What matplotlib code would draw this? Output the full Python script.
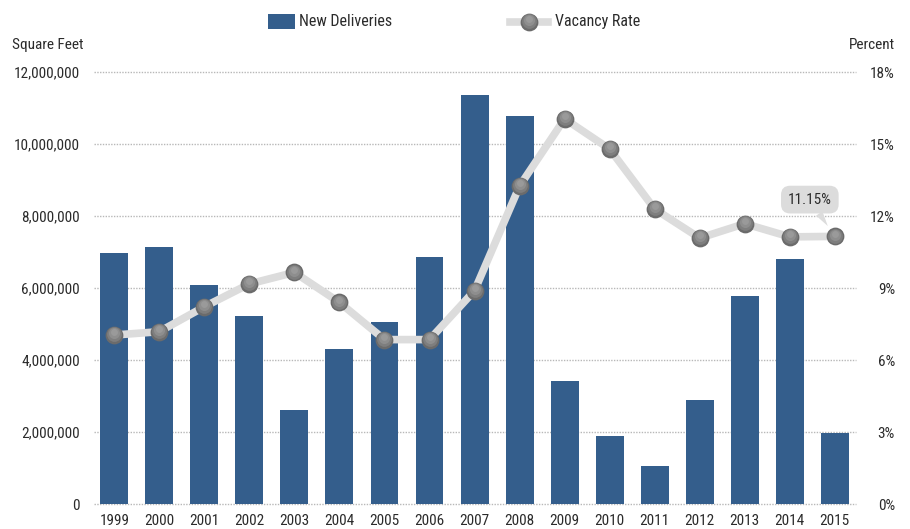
import matplotlib
matplotlib.use("Agg")
import matplotlib.pyplot as plt
from matplotlib.patches import Rectangle
from matplotlib.lines import Line2D
from matplotlib.transforms import offset_copy
import numpy as np

years = ["1999", "2000", "2001", "2002", "2003", "2004", "2005", "2006", "2007",
         "2008", "2009", "2010", "2011", "2012", "2013", "2014", "2015"]
deliveries = [6970000, 7140000, 6080000, 5220000, 2610000, 4310000, 5060000, 6860000,
              11360000, 10790000, 3420000, 1890000, 1060000, 2900000, 5770000, 6800000, 1970000]
vacancy = [7.04, 7.18, 8.22, 9.17, 9.65, 8.40, 6.85, 6.85, 8.89, 13.25, 16.05, 14.79,
           12.29, 11.08, 11.68, 11.13, 11.15]
left_ticks = [0, 2000000, 4000000, 6000000, 8000000, 10000000, 12000000]
left_labels = ["0", "2,000,000", "4,000,000", "6,000,000", "8,000,000", "10,000,000", "12,000,000"]
right_ticks = [0, 3, 6, 9, 12, 15, 18]
right_labels = ["0%", "3%", "6%", "9%", "12%", "15%", "18%"]

FONT = ["Roboto Condensed", "Liberation Sans Narrow", "DejaVu Sans"]
plt.rcParams["font.family"] = FONT
TXT = "#2b2b2b"
BAR = "#345e8c"
LINE = "#dcdcdc"
FS = 11

# gradient marker layers: (size, colour, upward offset px, alpha)
MARKER_LAYERS = [(12.8, "#6b6b6b", 0.0, 1.0), (10.6, "#7e7e7e", 0.9, 1.0),
                 (8.0, "#8e8e8e", 1.8, 1.0), (5.0, "#9a9a9a", 2.8, 1.0)]

W, H = 910, 529
fig = plt.figure(figsize=(W / 100, H / 100), dpi=100)
ax = fig.add_axes([94 / W, (H - 504) / H, 762 / W, (504 - 72) / H])
x = np.arange(len(years))

ax.bar(x, deliveries, width=0.62, color=BAR, zorder=2)
ax.set_xlim(-0.45, 16.47)
ax.set_ylim(0, 12000000)
ax.set_yticks(left_ticks)
ax.set_yticklabels(left_labels, fontsize=FS, color=TXT)
ax.set_xticks(x)
ax.set_xticklabels(years, fontsize=FS, color=TXT)
ax.tick_params(axis="y", length=0, pad=10)
ax.tick_params(axis="x", length=0, pad=7)
for s in ax.spines.values():
    s.set_visible(False)
for t in left_ticks:
    ax.axhline(t, color="#b8b8b8", lw=1.0, ls=(0, (1, 1)), zorder=1, clip_on=False)

ax2 = ax.twinx()
ax2.set_ylim(0, 18)
ax2.set_yticks(right_ticks)
ax2.set_yticklabels(right_labels, fontsize=FS, color=TXT)
ax2.tick_params(axis="y", length=0, pad=28)
for lbl in ax2.get_yticklabels():
    lbl.set_horizontalalignment("right")
for s in ax2.spines.values():
    s.set_visible(False)
ax2.plot(x, vacancy, color=LINE, lw=5.5, solid_capstyle="round", zorder=3)
for i, (ms, col, dy, a) in enumerate(MARKER_LAYERS):
    tr = offset_copy(ax2.transData, fig=fig, x=0, y=dy, units="dots")
    ax2.plot(x, vacancy, ls="none", marker="o", ms=ms, mfc=col, mec="none", alpha=a,
             transform=tr, zorder=4 + i * 0.1)

ax2.annotate("11.15%", xy=(x[-1], vacancy[-1]), xytext=(-18, 26.5), textcoords="offset points",
             ha="center", va="center", fontsize=FS, color=TXT,
             bbox=dict(boxstyle="round,pad=0.45,rounding_size=0.6", fc="#dcdcdc", ec="none"),
             arrowprops=dict(arrowstyle="wedge,tail_width=0.5,shrink_factor=0.5", fc="#dcdcdc",
                             ec="none", shrinkA=0, shrinkB=9),
             zorder=6)

# axis titles
fig.text(12 / W, 1 - 45 / H, "Square Feet", fontsize=FS, color=TXT, ha="left", va="center")
fig.text(895 / W, 1 - 45 / H, "Percent", fontsize=FS, color=TXT, ha="right", va="center")

# legend
fig.patches.append(Rectangle((268 / W, 1 - 29 / H), 27 / W, 15 / H, transform=fig.transFigure,
                             fc=BAR, ec="none"))
fig.text(299 / W, 1 - 21.5 / H, "New Deliveries", fontsize=FS + 0.5, color=TXT, ha="left", va="center")
fig.lines.append(Line2D([510 / W, 548 / W], [1 - 21.5 / H, 1 - 21.5 / H], transform=fig.transFigure,
                        color=LINE, lw=5.5))
for ms, col, dy, a in MARKER_LAYERS:
    fig.lines.append(Line2D([529 / W], [1 - (21.5 - dy) / H], transform=fig.transFigure, marker="o",
                            ms=ms, mfc=col, mec="none", alpha=a, ls="none"))
fig.text(555 / W, 1 - 21.5 / H, "Vacancy Rate", fontsize=FS + 0.5, color=TXT, ha="left", va="center")

fig.savefig("out.png", dpi=100)
